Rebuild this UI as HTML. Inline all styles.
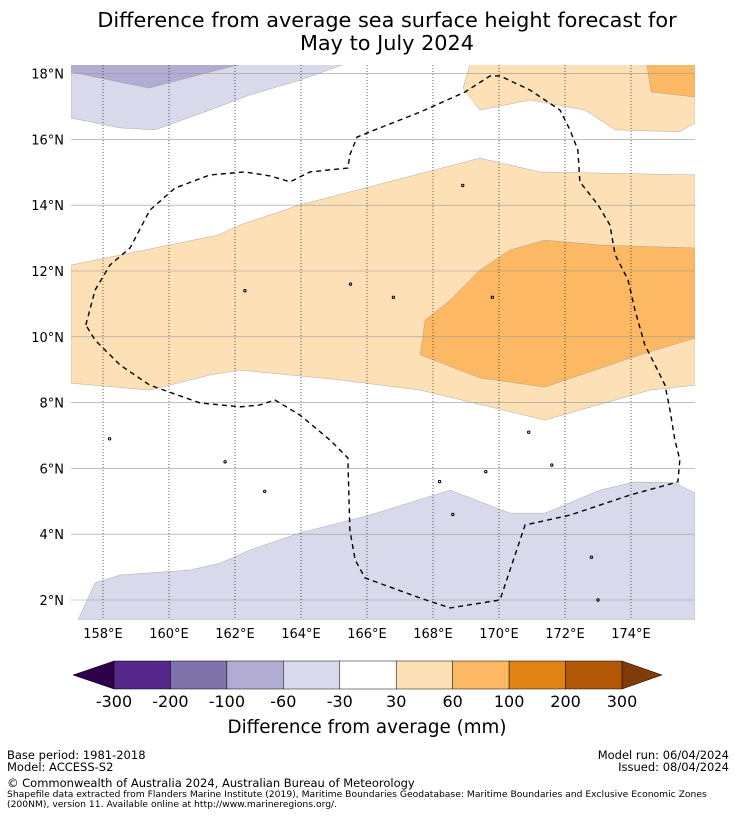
<!DOCTYPE html>
<html><head><meta charset="utf-8"><style>
body{margin:0;background:#fff;width:736px;height:816px;overflow:hidden;font-family:"DejaVu Sans","Liberation Sans",sans-serif}
svg{position:absolute;left:0;top:0}
.ft{position:absolute;font-size:11.5px;color:#000;line-height:12px}
</style></head><body>
<svg id="chart" width="736" height="816">
<text x="387" y="27" text-anchor="middle" font-size="20.8">Difference from average sea surface height forecast for</text>
<text x="387" y="50" text-anchor="middle" font-size="20.8">May to July 2024</text>
<g id="map"></g>
<g id="cbar"></g>
<text x="367" y="733" text-anchor="middle" font-size="18.3">Difference from average (mm)</text>
</svg>
<div class="ft" style="left:7px;top:749px">Base period: 1981-2018</div>
<div class="ft" style="left:7px;top:761px">Model: ACCESS-S2</div>
<div class="ft" style="right:7px;top:749px;text-align:right">Model run: 06/04/2024</div>
<div class="ft" style="right:7px;top:761px;text-align:right">Issued: 08/04/2024</div>
<div class="ft" style="left:7px;top:777px">© Commonwealth of Australia 2024, Australian Bureau of Meteorology</div>
<div class="ft" style="left:7px;top:790px;font-size:9.2px;line-height:10px">Shapefile data extracted from Flanders Marine Institute (2019), Maritime Boundaries Geodatabase: Maritime Boundaries and Exclusive Economic Zones<br>(200NM), version 11. Available online at http://www.marineregions.org/.</div>
<script>
const lonTicks=[158,160,162,164,166,168,170,172,174];
const latTicks=[2,4,6,8,10,12,14,16,18];
const cbarLevels=["-300","-200","-100","-60","-30","30","60","100","200","300"];
const cbarColors=["#542788","#8073ac","#b2abd2","#d8daeb","#ffffff","#fee0b6","#fdb863","#e08214","#b35806"];
const cbarExtLow="#2d004b", cbarExtHigh="#7f3b08";
const purpleTopLight=[[157.03,18.27],[165.27,18.27],[163.97,17.8],[162.45,17.35],[161.24,16.89],[159.58,16.29],[158.52,16.35],[157.03,16.65]];
const purpleTopMed=[[157.03,18.27],[162.12,18.27],[160.91,17.96],[159.39,17.56],[157.88,17.87],[157.03,18.05]];
const purpleBottom=[[157.24,1.39],[157.76,2.52],[158.52,2.76],[160.64,2.91],[161.55,3.12],[162.45,3.52],[163.97,4.04],[166.09,4.58],[168.52,5.34],[170.33,4.64],[171.39,4.64],[173.06,5.34],[174.12,5.59],[175.33,5.56],[175.94,5.25],[175.94,1.39]];
const orangeBand=[[157.03,12.18],[161.48,13.09],[162.15,13.4],[163.97,14.01],[169.42,15.43],[171.24,15.01],[175.94,14.92],[175.94,8.53],[174.58,8.38],[171.39,7.47],[167.61,8.38],[165.18,8.69],[162.15,8.99],[161.24,8.84],[159.42,8.38],[157.03,8.59]];
const orangeCore=[[167.76,10.51],[168.52,11.12],[169.42,12.03],[170.33,12.64],[171.39,12.94],[173.06,12.79],[175.94,12.7],[175.94,9.96],[174.27,9.45],[171.39,8.47],[169.42,8.75],[167.61,9.45]];
const orangeTR=[[169.12,18.27],[168.91,17.56],[169.42,16.89],[170.94,17.2],[172.61,16.89],[173.52,16.29],[175.48,16.23],[175.94,16.5],[175.94,18.27]];
const orangeTRCore=[[174.48,18.27],[174.61,17.44],[175.94,17.29],[175.94,18.27]];
const eez=[[157.48,10.36],[157.76,11.42],[158.21,12.18],[158.82,12.7],[159.42,13.85],[160.18,14.52],[161.24,14.92],[162.3,15.01],[163.06,14.89],[163.67,14.71],[164.27,15.01],[165.42,15.13],[165.48,15.53],[165.7,16.07],[166.39,16.35],[167.61,16.83],[168.97,17.44],[169.73,17.93],[170.03,17.93],[170.94,17.5],[171.85,16.89],[172.15,16.29],[172.39,15.68],[172.45,14.71],[173,14.01],[173.36,13.4],[173.52,12.49],[173.91,11.73],[174.12,10.81],[174.42,9.75],[174.73,9.14],[175.03,8.53],[175.18,7.78],[175.33,6.86],[175.48,6.26],[175.42,5.59],[173.97,5.19],[172.15,4.58],[170.79,4.28],[170.03,2],[168.52,1.76],[167.61,2.06],[165.94,2.67],[165.64,3.22],[165.48,4.13],[165.42,6.32],[164.88,6.86],[163.97,7.62],[163.21,8.08],[162.76,7.93],[162.15,7.87],[160.94,7.99],[159.42,8.53],[158.52,9.14],[157.76,9.9]];
const islands=[[158.2,6.9],[162.9,5.3],[161.7,6.2],[162.3,11.4],[165.5,11.6],[166.8,11.2],[168.6,4.6],[170.9,7.1],[172.8,3.3],[173.0,2.0],[169.6,5.9],[168.2,5.6],[168.9,14.6],[169.8,11.2],[171.6,6.1]];
const NS="http://www.w3.org/2000/svg";
const X0=71,X1=695,Y0=65,Y1=620;
function xS(lon){return 103+(lon-158)*33;}
function yS(lat){return 600-(lat-2)*32.9;}
function el(t,a,p){const e=document.createElementNS(NS,t);for(const k in a)e.setAttribute(k,a[k]);p.appendChild(e);return e;}
const map=document.getElementById('map');
const clip=el('clipPath',{id:'mc'},map);el('rect',{x:X0,y:Y0,width:X1-X0,height:Y1-Y0},clip);
const g=el('g',{'clip-path':'url(#mc)'},map);
function poly(pts,fill,name){const p=el('polygon',{points:pts.map(q=>xS(q[0])+','+yS(q[1])).join(' '),fill:fill,stroke:'#999',"stroke-width":0.4},g);

}
poly(purpleTopLight,cbarColors[3],'contour-purple-top');
poly(purpleTopMed,cbarColors[2],'contour-purple-top-strong');
poly(purpleBottom,cbarColors[3],'contour-purple-bottom');
poly(orangeBand,cbarColors[5],'contour-orange-band');
poly(orangeCore,cbarColors[6],'contour-orange-core');
poly(orangeTR,cbarColors[5],'contour-orange-topright');
poly(orangeTRCore,cbarColors[6],'contour-orange-topright-core');
latTicks.forEach(v=>{const l=el('line',{x1:X0,x2:X1,y1:yS(v),y2:yS(v),stroke:'#999','stroke-width':0.6},g);


const t=el('text',{x:64,y:yS(v)+5,'text-anchor':'end','font-size':13},map);t.textContent=v+'°N';

});
lonTicks.forEach(v=>{const l=el('line',{x1:xS(v),x2:xS(v),y1:Y0,y2:Y1,stroke:'#333','stroke-width':0.8,'stroke-dasharray':'1,2'},g);


const t=el('text',{x:xS(v),y:638,'text-anchor':'middle','font-size':13},map);t.textContent=v+'°E';

});
const ez=el('polygon',{points:eez.map(q=>xS(q[0])+','+yS(q[1])).join(' '),fill:'none',stroke:'#000','stroke-width':1.4,'stroke-dasharray':'5,4'},g);


islands.forEach(q=>{const c=el('circle',{cx:xS(q[0]),cy:yS(q[1]),r:1.2,fill:'none',stroke:'#000','stroke-width':1},g);

});
const cb=document.getElementById('cbar');
const CB0=114,CB1=622,CBT=661,CBB=689,n=cbarColors.length,w=(CB1-CB0)/n;
const lt=el('polygon',{points:`${CB0},${CBT} 73,${(CBT+CBB)/2} ${CB0},${CBB}`,fill:cbarExtLow,stroke:'#000','stroke-width':0.5},cb);


const rt=el('polygon',{points:`${CB1},${CBT} 662,${(CBT+CBB)/2} ${CB1},${CBB}`,fill:cbarExtHigh,stroke:'#000','stroke-width':0.5},cb);


cbarColors.forEach((c,i)=>{const r=el('rect',{x:CB0+i*w,y:CBT,width:w,height:CBB-CBT,fill:c,stroke:'#000','stroke-width':0.5},cb);

});
cbarLevels.forEach((s,i)=>{const t=el('text',{x:CB0+i*w,y:707,'text-anchor':'middle','font-size':16},cb);t.textContent=s;

});
</script>
</body></html>
